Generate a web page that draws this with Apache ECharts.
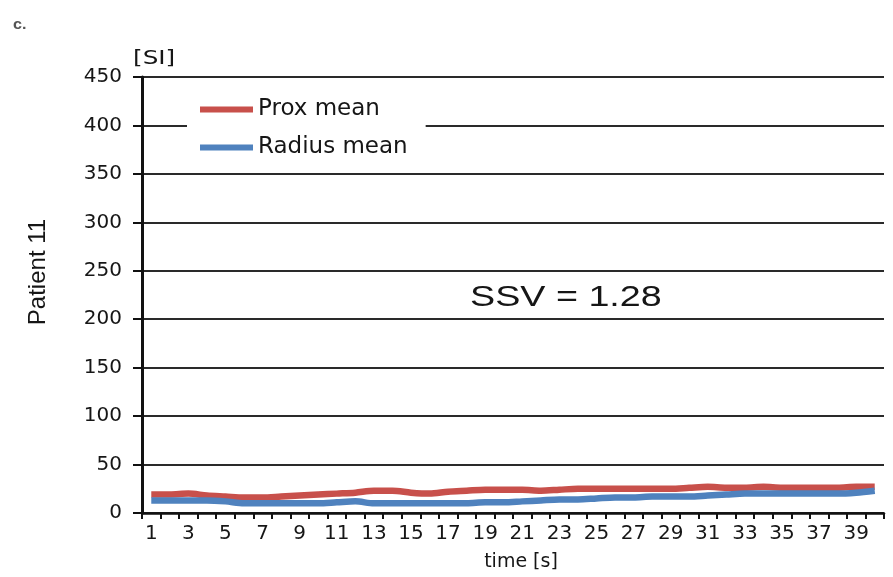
<!DOCTYPE html>
<html>
<head>
<meta charset="utf-8">
<script src="https://cdn.jsdelivr.net/npm/echarts@6/dist/echarts.min.js"></script>
<style>
  html,body{margin:0;padding:0;background:#fff}
  #chart{width:893px;height:577px}
</style>
</head>
<body>
<div id="chart"></div>
<script>
// time points 1..40 s
var timeLabels = ['1','2','3','4','5','6','7','8','9','10','11','12','13','14','15','16','17','18','19','20',
  '21','22','23','24','25','26','27','28','29','30','31','32','33','34','35','36','37','38','39','40'];
var proxMean = [19,19,20,18,17,16,16,17,18,19,20,21,23,23,21,20,22,23,24,24,
  24,23,24,25,25,25,25,25,25,26,27,26,26,27,26,26,26,26,27,27];
var radiusMean = [13,13,13,13,12,10,10,10,10,10,11,12,10,10,10,10,10,10,11,11,
  12,13,14,14,15,16,16,17,17,17,18,19,20,20,20,20,20,20,21,23];
var yTicks = {min:0, max:450, step:50};
var seriesNames = ['Prox mean','Radius mean'];
var ssvText = 'SSV = 1.28';

var sans = '"Liberation Sans", Arial, sans-serif';
var wide = '"DejaVu Sans", sans-serif';
var ink = '#161616';
var ec = echarts.init(document.getElementById('chart'));
var opt = {
  animation:false,
  backgroundColor:'#fff',
  textStyle:{fontFamily:wide},
  grid:{left:142, right:9, top:77, bottom:63},
  legend:{
    orient:'vertical', left:187, top:92,
    data:seriesNames,
    icon:'rect', itemWidth:53, itemHeight:6, itemGap:15,
    backgroundColor:'#fff',
    padding:[6,18,6,13],
    textStyle:{fontFamily:wide, fontSize:23, color:ink, padding:[0,0,0,0]}
  },
  xAxis:{
    type:'category',
    data:timeLabels,
    boundaryGap:true,
    name:'time [s]',
    nameLocation:'middle',
    nameGap:40,
    nameTextStyle:{fontFamily:wide, fontSize:19, color:ink, padding:[0,0,0,16]},
    axisLine:{lineStyle:{color:'#111', width:2.5}},
    axisTick:{show:true, interval:0, length:6, lineStyle:{color:'#111', width:2}},
    axisLabel:{interval:1, margin:11, fontSize:20, color:ink, fontFamily:wide},
    splitLine:{show:false}
  },
  yAxis:{
    type:'value',
    min:yTicks.min, max:yTicks.max, interval:yTicks.step,
    axisLine:{show:true, lineStyle:{color:'#111', width:3}},
    axisTick:{show:true, length:9, lineStyle:{color:'#111', width:2}},
    axisLabel:{margin:20, fontSize:20, color:ink, fontFamily:wide},
    splitLine:{show:true, lineStyle:{color:'#2a2a2a', width:2}}
  },
  series:[
    {name:seriesNames[0], type:'line', data:proxMean, smooth:0.3, symbol:'none',
     color:'#C8504B', lineStyle:{width:6.5, color:'#C8504B'}},
    {name:seriesNames[1], type:'line', data:radiusMean, smooth:0.3, symbol:'none',
     color:'#4F82BE', lineStyle:{width:6.5, color:'#4F82BE'}}
  ],
  graphic:[
    {type:'text', x:13, y:18, scaleX:1.15,
     style:{text:'c.', font:'bold 14px ' + sans, fill:'#555', textVerticalAlign:'top'}},
    {type:'text', x:133, y:50, scaleX:1.3,
     style:{text:'[SI]', font:'19px ' + wide, fill:ink, textVerticalAlign:'top'}},
    {type:'text', x:38, y:272, rotation:Math.PI/2,
     style:{text:'Patient 11', font:'24px ' + sans, fill:ink, textAlign:'center', textVerticalAlign:'middle'}},
    {type:'text', x:470, y:283, scaleX:1.3,
     style:{text:ssvText, font:'29px ' + sans, fill:ink, textVerticalAlign:'top'}}
  ]
};
ec.setOption(opt);
</script>
</body>
</html>
